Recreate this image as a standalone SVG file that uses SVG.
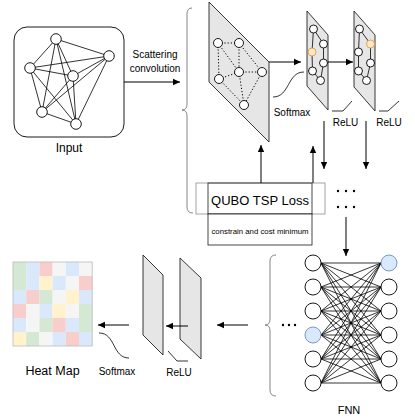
<svg xmlns="http://www.w3.org/2000/svg" width="415" height="419" viewBox="0 0 415 419">
<defs>
<marker id="ah" markerWidth="8" markerHeight="8" refX="7" refY="4" orient="auto" markerUnits="userSpaceOnUse">
<path d="M0,0.8 L7,4 L0,7.2 Z" fill="#000"/>
</marker>
<style>
text{font-family:"Liberation Sans",Arial,sans-serif;fill:#000}
.n{fill:#fff;stroke:#000;stroke-width:0.9}
.e{stroke:#000;stroke-width:0.8;fill:none}
.d{stroke:#000;stroke-width:1;fill:none;stroke-dasharray:1.2 2}
.pl{fill:#e6e6e6;stroke:#222;stroke-width:0.9}
.ar{stroke:#000;stroke-width:1;fill:none;marker-end:url(#ah)}
.br{stroke:#777;stroke-width:0.9;fill:none}
.or{fill:#ffe6cc;stroke:#e0a040;stroke-width:0.9}
.bl{fill:#dae8fc;stroke:#6c8ebf;stroke-width:0.9}
.g{fill:#d5e8d4}.b{fill:#dae8fc}.r{fill:#f8cecc}.w{fill:#f5f5f5}.y{fill:#fff2cc}
</style>
</defs>

<g id="input">
<rect x="14" y="27" width="110" height="110" rx="13" fill="#fff" stroke="#000" stroke-width="0.9"/>
<g class="e">
<path d="M56,39L109,56M56,39L30,68M56,39L42,112M56,39L76,124M56,39L73,76M109,56L30,68M109,56L73,76M109,56L42,112M109,56L76,124M30,68L73,76M30,68L42,112M30,68L76,124M73,76L42,112M73,76L76,124M42,112L76,124"/>
</g>
<circle class="n" cx="56" cy="39" r="5.3"/>
<circle class="n" cx="109" cy="56" r="5.3"/>
<circle class="n" cx="30" cy="68" r="5.3"/>
<circle class="n" cx="73" cy="76" r="5.3"/>
<circle class="n" cx="42" cy="112" r="5.3"/>
<circle class="n" cx="76" cy="124" r="5.3"/>
<text x="69" y="151.5" font-size="12" text-anchor="middle">Input</text>
</g>

<g id="scatter-layer">
<polygon class="pl" points="209,2 269,62 269,142 209,82"/>
<path class="d" d="M218,43L239,43M218,43L219,79M218,43L239,72M239,43L239,72M239,43L262,72M239,72L262,72M219,79L239,72M239,72L244,105M219,79L244,105M262,72L244,105"/>
<circle class="n" cx="218" cy="43" r="4.5"/>
<circle class="n" cx="239" cy="43" r="4.5"/>
<circle class="n" cx="239" cy="72" r="4.5"/>
<circle class="n" cx="262" cy="72" r="4.5"/>
<circle class="n" cx="219" cy="79" r="4.5"/>
<circle class="n" cx="244" cy="105" r="4.5"/>
</g>

<g id="layer1">
<polygon class="pl" points="307,11 328,35 328,110 307,86"/>
<path class="e" d="M313.5,29L323.5,44L323.5,63L320.5,80.5L312.5,71L312,52Z"/>
<circle class="n" cx="313.5" cy="29" r="4"/>
<circle class="n" cx="323.5" cy="44" r="4"/>
<circle class="or" cx="312" cy="52" r="4"/>
<circle class="n" cx="323.5" cy="63" r="4"/>
<circle class="n" cx="312.5" cy="71" r="4"/>
<circle class="n" cx="320.5" cy="80.5" r="4"/>
</g>

<g id="layer2">
<polygon class="pl" points="354,11 375,35 375,111 354,87"/>
<path class="e" d="M359.5,29L370.5,44L370.5,63L366.5,80.5L358.5,71L358.5,52Z"/>
<circle class="n" cx="359.5" cy="29" r="4"/>
<circle class="or" cx="370.5" cy="44" r="4"/>
<circle class="n" cx="358.5" cy="52" r="4"/>
<circle class="n" cx="370.5" cy="63" r="4"/>
<circle class="n" cx="358.5" cy="71" r="4"/>
<circle class="n" cx="366.5" cy="80.5" r="4"/>
</g>

<g id="labels-top">
<text x="155" y="57.5" font-size="10" text-anchor="middle">Scattering</text>
<text x="155" y="71.5" font-size="10" text-anchor="middle">convolution</text>
<text x="292" y="115.5" font-size="10" text-anchor="middle">Softmax</text>
<text x="345.5" y="125.5" font-size="10" text-anchor="middle">ReLU</text>
<text x="389" y="125.5" font-size="10" text-anchor="middle">ReLU</text>
</g>

<g id="qubo">
<rect x="196" y="183" width="129" height="31" fill="#fff" stroke="#999" stroke-width="0.9"/>
<rect x="208" y="183" width="104" height="31" fill="none" stroke="#333" stroke-width="0.9"/>
<text x="260" y="204.5" font-size="13" text-anchor="middle" fill="#000">QUBO TSP Loss</text>
<rect x="208" y="214" width="104" height="31" fill="#fff" stroke="#333" stroke-width="0.9"/>
<text x="260" y="234" font-size="7.8" text-anchor="middle" fill="#000">constrain and cost minimum</text>
</g>

<g id="fnn">
<path class="e" stroke-width="0.7" d="M321 263L381 263M321 263L381 287M321 263L381 311M321 263L381 335M321 263L381 359M321 263L381 383M321 287L381 263M321 287L381 287M321 287L381 311M321 287L381 335M321 287L381 359M321 287L381 383M321 311L381 263M321 311L381 287M321 311L381 311M321 311L381 335M321 311L381 359M321 311L381 383M321 335L381 263M321 335L381 287M321 335L381 311M321 335L381 335M321 335L381 359M321 335L381 383M321 359L381 263M321 359L381 287M321 359L381 311M321 359L381 335M321 359L381 359M321 359L381 383M321 383L381 263M321 383L381 287M321 383L381 311M321 383L381 335M321 383L381 359M321 383L381 383"/>
<circle class="n" cx="313" cy="263" r="8"/>
<circle class="n" cx="313" cy="287" r="8"/>
<circle class="n" cx="313" cy="311" r="8"/>
<circle class="bl" cx="313" cy="335" r="8"/>
<circle class="n" cx="313" cy="359" r="8"/>
<circle class="n" cx="313" cy="383" r="8"/>
<circle class="bl" cx="389" cy="263" r="8"/>
<circle class="n" cx="389" cy="287" r="8"/>
<circle class="n" cx="389" cy="311" r="8"/>
<circle class="n" cx="389" cy="335" r="8"/>
<circle class="n" cx="389" cy="359" r="8"/>
<circle class="n" cx="389" cy="383" r="8"/>
<text x="349" y="414" font-size="11" text-anchor="middle">FNN</text>
</g>

<g id="out-layers">
<polygon class="pl" points="143,255 163,275 163,355 143,335"/>
<polygon class="pl" points="180,258 201,278 201,359 180,339"/>
<text x="179" y="375.5" font-size="10" text-anchor="middle">ReLU</text>
<text x="117" y="374.5" font-size="10" text-anchor="middle">Softmax</text>
</g>

<g id="heatmap">
<rect class="g" x="13" y="262" width="13.2" height="14"/><rect class="b" x="26.2" y="262" width="13.2" height="14"/><rect class="r" x="39.4" y="262" width="13.2" height="14"/><rect class="w" x="52.6" y="262" width="13.2" height="14"/><rect class="b" x="65.8" y="262" width="13.2" height="14"/><rect class="w" x="79" y="262" width="13.2" height="14"/>
<rect class="g" x="13" y="276" width="13.2" height="14"/><rect class="b" x="26.2" y="276" width="13.2" height="14"/><rect class="y" x="39.4" y="276" width="13.2" height="14"/><rect class="b" x="52.6" y="276" width="13.2" height="14"/><rect class="w" x="65.8" y="276" width="13.2" height="14"/><rect class="r" x="79" y="276" width="13.2" height="14"/>
<rect class="b" x="13" y="290" width="13.2" height="14"/><rect class="r" x="26.2" y="290" width="13.2" height="14"/><rect class="g" x="39.4" y="290" width="13.2" height="14"/><rect class="w" x="52.6" y="290" width="13.2" height="14"/><rect class="y" x="65.8" y="290" width="13.2" height="14"/><rect class="b" x="79" y="290" width="13.2" height="14"/>
<rect class="r" x="13" y="304" width="13.2" height="14"/><rect class="w" x="26.2" y="304" width="13.2" height="14"/><rect class="b" x="39.4" y="304" width="13.2" height="14"/><rect class="y" x="52.6" y="304" width="13.2" height="14"/><rect class="w" x="65.8" y="304" width="13.2" height="14"/><rect class="g" x="79" y="304" width="13.2" height="14"/>
<rect class="b" x="13" y="318" width="13.2" height="14"/><rect class="w" x="26.2" y="318" width="13.2" height="14"/><rect class="g" x="39.4" y="318" width="13.2" height="14"/><rect class="r" x="52.6" y="318" width="13.2" height="14"/><rect class="b" x="65.8" y="318" width="13.2" height="14"/><rect class="g" x="79" y="318" width="13.2" height="14"/>
<rect class="y" x="13" y="332" width="13.2" height="14"/><rect class="g" x="26.2" y="332" width="13.2" height="14"/><rect class="w" x="39.4" y="332" width="13.2" height="14"/><rect class="b" x="52.6" y="332" width="13.2" height="14"/><rect class="r" x="65.8" y="332" width="13.2" height="14"/><rect class="b" x="79" y="332" width="13.2" height="14"/>
<rect x="13" y="262" width="79.2" height="84" fill="none" stroke="#bbb" stroke-width="0.8"/>
<text x="52.5" y="374.5" font-size="12.5" text-anchor="middle">Heat Map</text>
</g>

<g id="connectors">
<path class="ar" d="M124,82L180,82"/>
<path class="ar" d="M269,62L301,62"/>
<path class="ar" d="M328,62L353,62"/>
<path class="ar" d="M324,121L324,169"/>
<path class="ar" d="M366,121L366,169"/>
<path class="ar" d="M261,183L261,145"/>
<path class="ar" d="M313,183L313,146"/>
<path class="ar" d="M346,217L346,256"/>
<path class="ar" d="M248,325L217,325"/>
<path class="ar" d="M188,326L166,326"/>
<path class="ar" d="M129,325L98,325"/>
<path class="br" d="M192,8Q187,8 187,14L187,104Q187,110 182,110Q187,110 187,116L187,207Q187,213 193,213"/>
<path class="br" d="M276,255Q270,255 270,261L270,319Q270,325 265,325Q270,325 270,331L270,390Q270,396 276,396"/>
<path class="e" stroke="#222" d="M273,97C290,97 287,72 304,72"/>
<path class="e" stroke="#222" d="M99,333C116,333 112,358 129,358"/>
<path class="e" stroke="#444" d="M332,111L343,111L352,101"/>
<path class="e" stroke="#444" d="M379,111L388,111L399,101"/>
<path class="e" stroke="#444" d="M168,351L177,361L188,361"/>
<g fill="#000">
<circle cx="338" cy="191" r="1.2"/><circle cx="346" cy="191" r="1.2"/><circle cx="354" cy="191" r="1.2"/>
<circle cx="338" cy="207" r="1.2"/><circle cx="346" cy="207" r="1.2"/><circle cx="354" cy="207" r="1.2"/>
<circle cx="283" cy="325" r="1.2"/><circle cx="289" cy="325" r="1.2"/><circle cx="295" cy="325" r="1.2"/>
</g>
</g>
</svg>
